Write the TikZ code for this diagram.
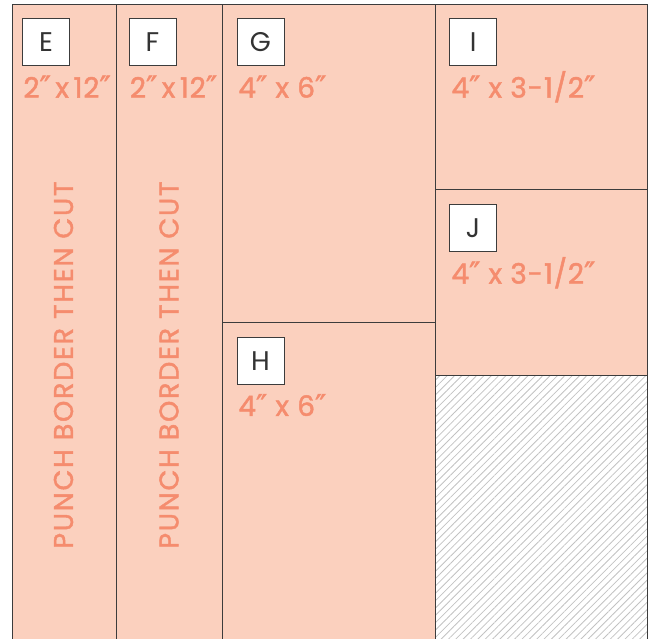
\documentclass[tikz,border=0pt]{standalone}
\usepackage{fontspec}
\setmainfont{Poppins}
\newfontfamily\labelfont{Poppins}[FakeBold=1.6, LetterSpace=3]
\newfontfamily\notefont{Poppins}[FakeBold=1.6, LetterSpace=6.5]
\newfontfamily\primefont{DejaVu Sans}[FakeBold=1.6]
\usepackage{tikz}
\usetikzlibrary{calc, patterns.meta}
\definecolor{peach}{HTML}{FBD0BE}
\definecolor{salmon}{HTML}{F58C6E}
\definecolor{edge}{HTML}{3C3C3C}
\newcommand{\inch}{{\primefont\fontsize{30}{30}\selectfont\symbol{"2033}}}

\begin{document}
\begin{tikzpicture}[x=1pt, y=-1pt, line join=miter,
     panel/.style = {draw=edge, line width=1pt, fill=peach},
     letterbox/.style = {draw=edge, line width=0.6pt, fill=white,
         minimum size=47pt, inner sep=0pt, anchor=north west,
         text=black!80, font=\fontsize{27}{27}\selectfont},
     size/.style = {anchor=base west, inner sep=0pt, text=salmon,
         font=\labelfont\fontsize{28}{28}\selectfont},
     cutnote/.style = {rotate=90, inner sep=0pt, text=salmon,
         font=\notefont\fontsize{27}{27}\selectfont}]
        \useasboundingbox (0,0) rectangle (649,639);
        \clip (0,0) rectangle (649,639);
        % strips and pieces
        \draw[panel] (12.3,4.7) rectangle (116.3,660);
        \draw[panel] (116.3,4.7) rectangle (222.7,660);
        \draw[panel] (222.7,4.7) rectangle (435.3,322.7);
        \draw[panel] (222.7,322.7) rectangle (435.3,660);
        \draw[panel] (435.3,4.7) rectangle (647.7,189.7);
        \draw[panel] (435.3,189.7) rectangle (647.7,376);
        \draw[draw=edge, line width=1pt, fill=white,
            pattern={Lines[angle=45, distance=5.2pt, line width=0.8pt]},
            pattern color=black!24] (435.3,376) rectangle (647.7,660);
        % letters
        \node[letterbox] (E) at (22.3,18) {E};
        \node[letterbox] (F) at (128.7,18) {F};
        \node[letterbox] (G) at (236.7,18) {G};
        \node[letterbox] (H) at (236.7,337.3) {H};
        \node[letterbox] (I) at (449.3,18) {I};
        \node[letterbox] (J) at (449.3,204) {J};
        % sizes
        \node[size] (Esize) at ($(E.south west)+(1,32)$) {2\inch\,x\,12\inch};
        \node[size] (Fsize) at ($(F.south west)+(1,32)$) {2\inch\,x\,12\inch};
        \node[size] (Gsize) at ($(G.south west)+(1.5,32)$) {4\inch{} x 6\inch};
        \node[size] (Hsize) at ($(H.south west)+(1.5,31)$) {4\inch{} x 6\inch};
        \node[size] (Isize) at ($(I.south west)+(2,32)$) {4\inch{} x 3-1/2\inch};
        \node[size] (Jsize) at ($(J.south west)+(2,32)$) {4\inch{} x 3-1/2\inch};
        \node[cutnote] (Ecut) at (63.5,365) {PUNCH BORDER THEN CUT};
        \node[cutnote] (Fcut) at (169,365) {PUNCH BORDER THEN CUT};
\end{tikzpicture}
\end{document}
